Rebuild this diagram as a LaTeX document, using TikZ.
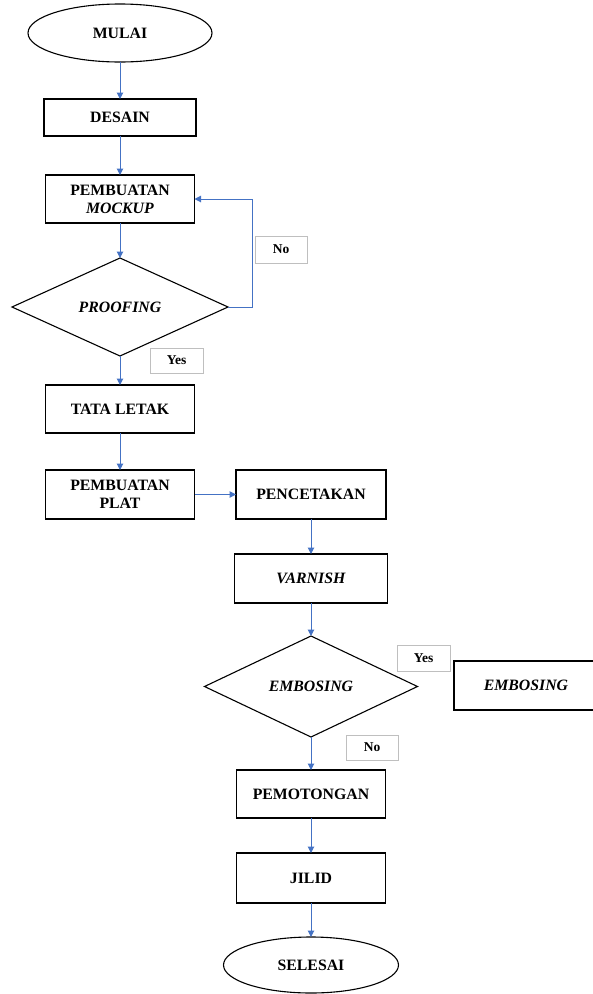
\documentclass[tikz,border=0pt]{standalone}
\usepackage{fontspec}
\setmainfont{Liberation Serif}
\usetikzlibrary{shapes.geometric,arrows.meta}
\definecolor{arrblue}{HTML}{4472C4}
\definecolor{lblgray}{HTML}{BFBFBF}
\tikzset{
  base/.style={font=\fontsize{15.8}{18}\selectfont\bfseries, align=center, inner sep=0pt, outer sep=0pt},
  procbox/.style={base, draw=black, line width=1.3pt, rectangle},
  termin/.style={base, draw=black, line width=1.1pt, ellipse},
  decis/.style={base, draw=black, line width=1.1pt, diamond, aspect=2.2},
  lbl/.style={font=\fontsize{13.5}{16}\selectfont\bfseries, draw=lblgray, line width=1pt, inner sep=0pt, outer sep=0pt, rectangle},
  flow/.style={draw=arrblue, line width=1pt, -{Triangle[width=6.5pt,length=6.5pt]}}
}
\begin{document}
\begin{tikzpicture}[x=1pt,y=-1pt]
\useasboundingbox (0,0) rectangle (593,994);
\node[termin, minimum width=184pt, minimum height=58pt] (mulai) at (120,33) {MULAI};
\node[procbox, minimum width=152pt, minimum height=37pt] (desain) at (120,117.5) {DESAIN};
\node[procbox, minimum width=149pt, minimum height=48pt] (mockup) at (120,199) {PEMBUATAN\\\textit{MOCKUP}};
\node[decis, minimum width=216pt, minimum height=98pt] (proof) at (120,307) {\textit{PROOFING}};
\node[lbl, minimum width=52pt, minimum height=27pt] (no1) at (281,249.5) {No};
\node[lbl, minimum width=53pt, minimum height=25pt] (yes1) at (176.5,360.5) {Yes};
\node[procbox, minimum width=149pt, minimum height=48pt] (tata) at (120,409) {TATA LETAK};
\node[procbox, minimum width=149pt, minimum height=49pt] (plat) at (120,494.5) {PEMBUATAN\\PLAT};
\node[procbox, minimum width=150pt, minimum height=49pt] (cetak) at (311,494.5) {PENCETAKAN};
\node[procbox, minimum width=153pt, minimum height=49pt] (varnish) at (311,578.5) {\textit{VARNISH}};
\node[decis, minimum width=213pt, minimum height=101pt] (emb) at (311,686.5) {\textit{EMBOSING}};
\node[lbl, minimum width=53pt, minimum height=26pt] (yes2) at (423.5,658) {Yes};
\node[procbox, minimum width=144pt, minimum height=49pt] (embbox) at (526,685.5) {\textit{EMBOSING}};
\node[lbl, minimum width=52pt, minimum height=25pt] (no2) at (372,747.5) {No};
\node[procbox, minimum width=149pt, minimum height=48pt] (potong) at (311,794) {PEMOTONGAN};
\node[procbox, minimum width=149pt, minimum height=50pt] (jilid) at (311,878) {JILID};
\node[termin, minimum width=175pt, minimum height=56pt] (selesai) at (311,965) {SELESAI};
\draw[flow] (mulai) -- (desain);
\draw[flow] (desain) -- (mockup);
\draw[flow] (mockup) -- (proof);
\draw[flow] (proof.east) -- (252,307) |- (mockup.east);
\draw[flow] (proof) -- (tata);
\draw[flow] (tata) -- (plat);
\draw[flow] (plat) -- (cetak);
\draw[flow] (cetak) -- (varnish);
\draw[flow] (varnish) -- (emb);
\draw[flow] (emb) -- (potong);
\draw[flow] (potong) -- (jilid);
\draw[flow] (jilid) -- (selesai);
\end{tikzpicture}
\end{document}
